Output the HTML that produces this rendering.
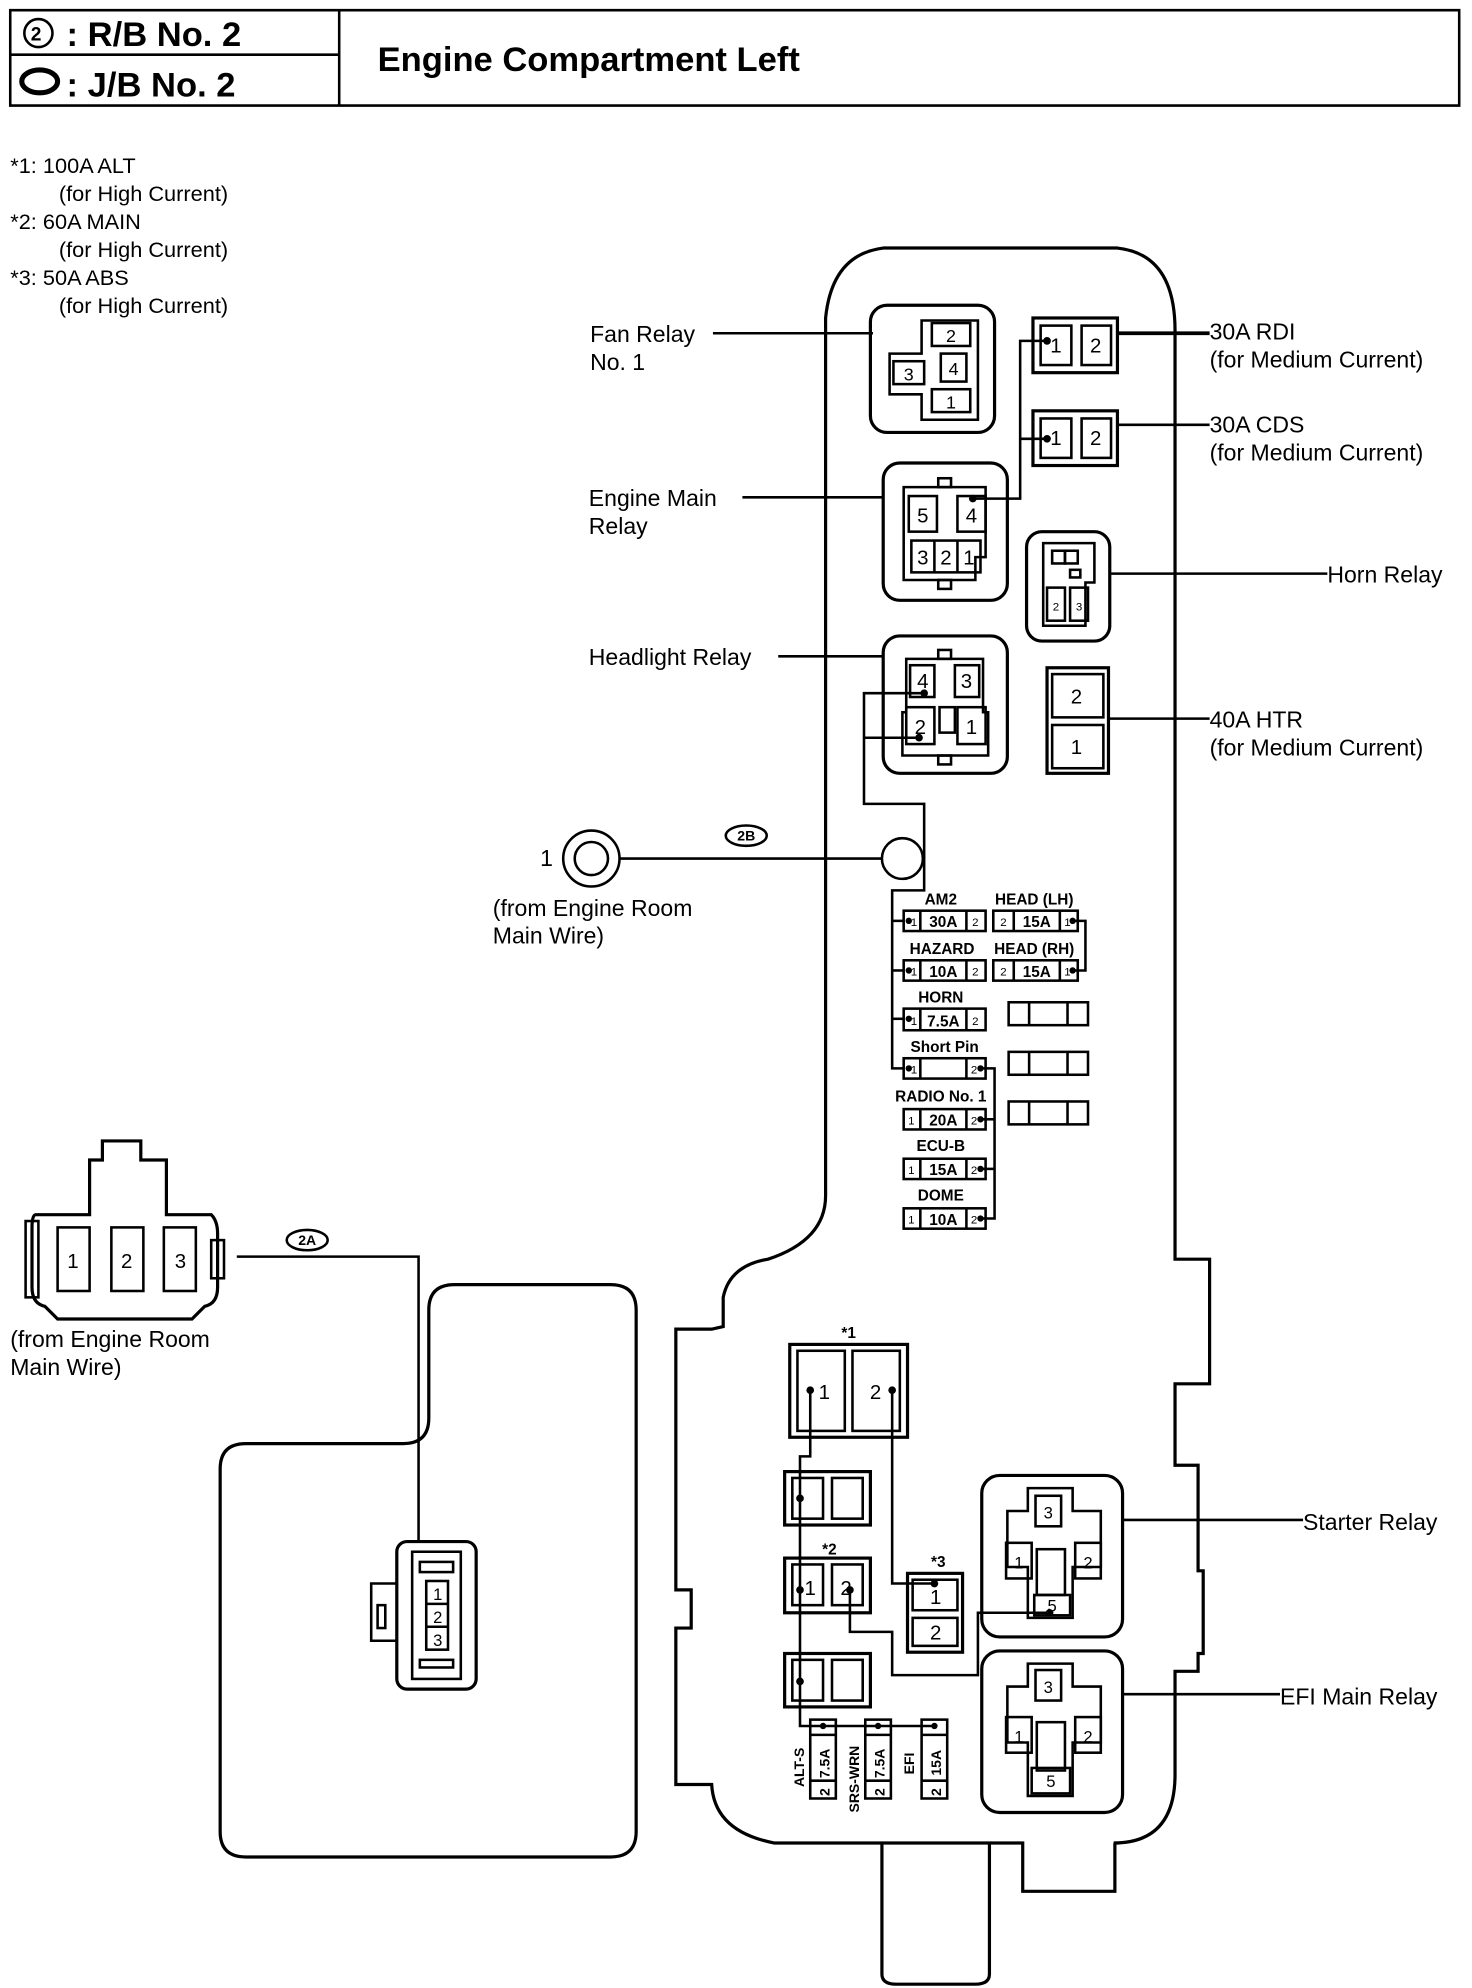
<!DOCTYPE html>
<html><head><meta charset="utf-8"><style>
html,body{margin:0;padding:0;background:#fff}
svg{display:block}
text{font-family:"Liberation Sans Narrow","Liberation Sans",sans-serif;fill:#000}
</style></head><body>
<svg width="1472" height="1988" viewBox="0 0 1150 1563" preserveAspectRatio="none" xmlns="http://www.w3.org/2000/svg">
<g fill="none" stroke="#000" stroke-width="2">
<path d="M8 8 H1140 V83 H8 Z" />
<line x1="265" y1="8" x2="265" y2="83"/>
<line x1="8" y1="43" x2="265" y2="43"/>
<circle cx="30" cy="26" r="11"/>
<ellipse cx="31" cy="64" rx="14" ry="9" stroke-width="4"/>
</g>
<text x="24" y="32" font-size="15" font-weight="bold">2</text>
<text x="52" y="36" font-size="27" font-weight="bold">:  R/B No. 2</text>
<text x="52" y="76" font-size="27" font-weight="bold">:  J/B No. 2</text>
<text x="295" y="56" font-size="27" font-weight="bold">Engine Compartment Left</text>
<g font-size="17">
<text x="8" y="136">*1:  100A ALT</text>
<text x="46" y="158">(for High Current)</text>
<text x="8" y="180">*2:  60A MAIN</text>
<text x="46" y="202">(for High Current)</text>
<text x="8" y="224">*3:  50A ABS</text>
<text x="46" y="246">(for High Current)</text>
</g>

<g fill="none" stroke="#000" stroke-width="2.5">
<path d="M690 195 H873 Q918 200 918 260 V990 H945 V1088 H918 V1152 H936 V1235 H940 V1300 H936 V1314 H918 V1395 Q918 1449 870 1449 H871 V1487 H799 V1449 H605 Q558 1440 556 1403 H528 V1280 H540 V1250 H528 V1045 H556 L565 1043 V1020 Q570 995 600 990 Q645 975 645 940 V250 Q650 200 690 195 Z"/>
<path d="M689 1449 V1552 Q689 1560 700 1560 H762 Q773 1560 773 1552 V1449"/>
<path d="M335 1030 Q335 1010 355 1010 H477 Q497 1010 497 1030 V1440 Q497 1460 477 1460 H192 Q172 1460 172 1440 V1155 Q172 1135 192 1135 H315 Q335 1135 335 1115 Z"/>
</g>

<g fill="none" stroke="#000" stroke-width="2">
<rect x="680" y="240" width="97" height="100" rx="13" stroke-width="2.5"/>
<path d="M720 252 H764 V330 H720 V310 H695 V278 H720 Z"/>
<rect x="728" y="254" width="30" height="18"/>
<rect x="698" y="284" width="24" height="18"/>
<rect x="735" y="278" width="20" height="22"/>
<rect x="728" y="306" width="30" height="18"/>
<rect x="690" y="364" width="97" height="108" rx="13" stroke-width="2.5"/>
<path d="M706 383 H770 V438 H762 V456 H706 Z"/>
<rect x="733" y="376" width="10" height="7"/><rect x="733" y="456" width="10" height="7"/>
<rect x="710" y="390" width="22" height="28"/>
<rect x="748" y="390" width="22" height="28"/>
<rect x="712" y="425" width="54" height="25"/>
<line x1="730" y1="425" x2="730" y2="450"/><line x1="748" y1="425" x2="748" y2="450"/>
<rect x="690" y="500" width="97" height="108" rx="13" stroke-width="2.5"/>
<path d="M708 518 H768 V560 H772 V594 H705 V560 H708 Z"/>
<rect x="733" y="511" width="10" height="7"/><rect x="733" y="594" width="10" height="7"/>
<rect x="711" y="523" width="19" height="25"/>
<rect x="746" y="523" width="19" height="25"/>
<rect x="708" y="556" width="22" height="29"/>
<rect x="748" y="556" width="22" height="29"/>
<rect x="734" y="556" width="12" height="20"/>
<rect x="807" y="250" width="66" height="43" stroke-width="2.5"/>
<rect x="813" y="256" width="24" height="31"/><rect x="845" y="256" width="23" height="31"/>
<rect x="807" y="323" width="66" height="43" stroke-width="2.5"/>
<rect x="813" y="329" width="24" height="31"/><rect x="845" y="329" width="23" height="31"/>
<rect x="802" y="418" width="65" height="86" rx="12" stroke-width="2.5"/>
<path d="M815 427 H855 V458 H848 V492 H815 Z"/>
<rect x="822" y="433" width="10" height="10"/><rect x="832" y="433" width="10" height="10"/>
<rect x="836" y="448" width="8" height="6"/>
<rect x="818" y="462" width="14" height="26"/><rect x="836" y="462" width="14" height="26"/>
<rect x="818" y="525" width="48" height="83" stroke-width="2.5"/>
<rect x="822" y="530" width="40" height="34"/><rect x="822" y="570" width="40" height="34"/>

<g stroke-width="2">
<rect x="706" y="716" width="64" height="16"/><line x1="719" y1="716" x2="719" y2="732"/><line x1="755" y1="716" x2="755" y2="732"/>
<rect x="776" y="716" width="66" height="16"/><line x1="792" y1="716" x2="792" y2="732"/><line x1="828" y1="716" x2="828" y2="732"/>
<rect x="706" y="755" width="64" height="16"/><line x1="719" y1="755" x2="719" y2="771"/><line x1="755" y1="755" x2="755" y2="771"/>
<rect x="776" y="755" width="66" height="16"/><line x1="792" y1="755" x2="792" y2="771"/><line x1="828" y1="755" x2="828" y2="771"/>
<rect x="706" y="793" width="64" height="17"/><line x1="719" y1="793" x2="719" y2="810"/><line x1="755" y1="793" x2="755" y2="810"/>
<rect x="706" y="832" width="64" height="16"/><line x1="719" y1="832" x2="719" y2="848"/><line x1="755" y1="832" x2="755" y2="848"/>
<rect x="706" y="872" width="64" height="16"/><line x1="719" y1="872" x2="719" y2="888"/><line x1="755" y1="872" x2="755" y2="888"/>
<rect x="706" y="911" width="64" height="16"/><line x1="719" y1="911" x2="719" y2="927"/><line x1="755" y1="911" x2="755" y2="927"/>
<rect x="706" y="950" width="64" height="16"/><line x1="719" y1="950" x2="719" y2="966"/><line x1="755" y1="950" x2="755" y2="966"/>
<rect x="788" y="788" width="62" height="18"/><line x1="804" y1="788" x2="804" y2="806"/><line x1="834" y1="788" x2="834" y2="806"/>
<rect x="788" y="827" width="62" height="18"/><line x1="804" y1="827" x2="804" y2="845"/><line x1="834" y1="827" x2="834" y2="845"/>
<rect x="788" y="866" width="62" height="18"/><line x1="804" y1="866" x2="804" y2="884"/><line x1="834" y1="866" x2="834" y2="884"/>
</g>

<polyline points="818,268 797,268 797,392 760,392"/>
<line x1="818" y1="345" x2="797" y2="345"/>
<polyline points="722,545 675,545 675,632 722,632 722,700 697,700 697,840 706,840"/>
<line x1="718" y1="580" x2="675" y2="580"/>
<line x1="697" y1="724" x2="706" y2="724"/><line x1="697" y1="763" x2="706" y2="763"/><line x1="697" y1="801" x2="706" y2="801"/>
<polyline points="766,840 777,840 777,958 766,958"/>
<line x1="777" y1="880" x2="766" y2="880"/><line x1="777" y1="919" x2="766" y2="919"/>
<polyline points="838,724 848,724 848,763 838,763"/>
<circle cx="705" cy="675" r="16" fill="#fff"/>
<circle cx="462" cy="675" r="22"/><circle cx="462" cy="675" r="13"/>
<line x1="484" y1="675" x2="689" y2="675"/>
<ellipse cx="583" cy="657" rx="16" ry="8"/>
<ellipse cx="240" cy="975" rx="16" ry="8"/>

<line x1="557" y1="262" x2="682" y2="262"/>
<line x1="580" y1="391" x2="690" y2="391"/>
<line x1="608" y1="516" x2="690" y2="516"/>
<line x1="873" y1="262" x2="945" y2="262" stroke-width="3"/>
<line x1="873" y1="334" x2="945" y2="334"/>
<line x1="867" y1="451" x2="1037" y2="451"/>
<line x1="866" y1="565" x2="945" y2="565"/>
<line x1="877" y1="1195" x2="1018" y2="1195"/>
<line x1="877" y1="1332" x2="1000" y2="1332"/>

<rect x="617" y="1057" width="92" height="73" stroke-width="2.5"/>
<rect x="623" y="1062" width="37" height="63"/><rect x="666" y="1062" width="37" height="63"/>
<rect x="613" y="1157" width="67" height="42" stroke-width="2.5"/>
<rect x="619" y="1162" width="24" height="32"/><rect x="650" y="1162" width="24" height="32"/>
<rect x="613" y="1225" width="67" height="43" stroke-width="2.5"/>
<rect x="619" y="1230" width="24" height="32"/><rect x="650" y="1230" width="24" height="32"/>
<rect x="613" y="1300" width="67" height="42" stroke-width="2.5"/>
<rect x="619" y="1305" width="24" height="32"/><rect x="650" y="1305" width="24" height="32"/>
<rect x="709" y="1237" width="43" height="62" stroke-width="2.5"/>
<rect x="713" y="1242" width="35" height="24"/><rect x="713" y="1272" width="35" height="22"/>
<rect x="633" y="1352" width="20" height="62"/><line x1="633" y1="1364" x2="653" y2="1364"/><line x1="633" y1="1400" x2="653" y2="1400"/>
<rect x="676" y="1352" width="20" height="62"/><line x1="676" y1="1364" x2="696" y2="1364"/><line x1="676" y1="1400" x2="696" y2="1400"/>
<rect x="720" y="1352" width="20" height="62"/><line x1="720" y1="1364" x2="740" y2="1364"/><line x1="720" y1="1400" x2="740" y2="1400"/>
<polyline points="633,1093 633,1145 625,1145 625,1357 730,1357"/>
<polyline points="697,1093 697,1245 730,1245"/>
<polyline points="664,1250 664,1283 697,1283 697,1317 764,1317 764,1268 820,1268"/>
<rect x="767" y="1160" width="110" height="127" rx="14" stroke-width="2.5"/>
<path d="M803 1170 H838 V1188 H860 V1232 H838 V1272 H803 V1232 H787 V1188 H803 Z"/>
<rect x="809" y="1176" width="20" height="24"/><rect x="786" y="1213" width="20" height="28"/><rect x="840" y="1213" width="20" height="28"/><rect x="810" y="1218" width="22" height="36"/><rect x="808" y="1254" width="28" height="16"/>
<rect x="767" y="1298" width="110" height="127" rx="14" stroke-width="2.5"/>
<path d="M803 1308 H838 V1326 H860 V1370 H838 V1412 H803 V1370 H787 V1326 H803 Z"/>
<rect x="809" y="1313" width="20" height="24"/><rect x="786" y="1350" width="20" height="28"/><rect x="840" y="1350" width="20" height="28"/><rect x="810" y="1354" width="22" height="38"/><rect x="806" y="1390" width="30" height="20"/>

<path d="M28 955 H70 V912 H80 V897 H110 V912 H130 V955 H165 Q170 960 170 970 V1012 Q170 1025 160 1027 L150 1037 H45 L35 1027 Q25 1025 25 1012 V965 Q25 955 28 955 Z" stroke-width="2.5"/>
<rect x="20" y="960" width="10" height="60"/><rect x="165" y="975" width="10" height="30"/>
<rect x="45" y="965" width="25" height="50"/><rect x="87" y="965" width="25" height="50"/><rect x="128" y="965" width="25" height="50"/>
<polyline points="185,988 327,988 327,1212"/>
<rect x="310" y="1212" width="62" height="116" rx="8" stroke-width="2.5"/>
<rect x="322" y="1220" width="38" height="100"/>
<path d="M310 1245 H290 V1290 H310"/><rect x="295" y="1262" width="6" height="18"/>
<rect x="333" y="1243" width="17" height="54"/><line x1="333" y1="1261" x2="350" y2="1261"/><line x1="333" y1="1279" x2="350" y2="1279"/>
<rect x="328" y="1228" width="26" height="8"/><rect x="328" y="1305" width="26" height="6"/>
</g>

<g fill="#000">
<circle cx="818" cy="268" r="3"/><circle cx="818" cy="345" r="3"/><circle cx="760" cy="392" r="3"/>
<circle cx="722" cy="545" r="3"/><circle cx="718" cy="580" r="3"/>
<circle cx="710" cy="724" r="2.5"/><circle cx="710" cy="763" r="2.5"/><circle cx="710" cy="801" r="2.5"/><circle cx="710" cy="840" r="2.5"/>
<circle cx="838" cy="724" r="2.5"/><circle cx="838" cy="763" r="2.5"/>
<circle cx="766" cy="840" r="2.5"/><circle cx="766" cy="880" r="2.5"/><circle cx="766" cy="919" r="2.5"/><circle cx="766" cy="958" r="2.5"/>
<circle cx="633" cy="1093" r="3"/><circle cx="697" cy="1093" r="3"/><circle cx="625" cy="1178" r="3"/><circle cx="625" cy="1250" r="3"/><circle cx="664" cy="1250" r="3"/><circle cx="625" cy="1322" r="3"/>
<circle cx="730" cy="1245" r="3"/><circle cx="820" cy="1268" r="3"/>
<circle cx="643" cy="1357" r="2.5"/><circle cx="686" cy="1357" r="2.5"/><circle cx="730" cy="1357" r="2.5"/>
</g>

<g font-size="18">
<text x="461" y="269">Fan Relay</text><text x="461" y="291">No. 1</text>
<text x="460" y="398">Engine Main</text><text x="460" y="420">Relay</text>
<text x="460" y="523">Headlight Relay</text>
<text x="945" y="267">30A RDI</text><text x="945" y="289">(for Medium Current)</text>
<text x="945" y="340">30A CDS</text><text x="945" y="362">(for Medium Current)</text>
<text x="1037" y="458">Horn Relay</text>
<text x="945" y="572">40A HTR</text><text x="945" y="594">(for Medium Current)</text>
<text x="1018" y="1203">Starter Relay</text>
<text x="1000" y="1340">EFI Main Relay</text>
<text x="422" y="681">1</text>
<text x="385" y="720">(from Engine Room</text><text x="385" y="742">Main Wire)</text>
<text x="8" y="1059">(from Engine Room</text><text x="8" y="1081">Main Wire)</text>
</g>
<g font-size="11" font-weight="bold" text-anchor="middle">
<text x="583" y="661">2B</text><text x="240" y="979">2A</text>
</g>
<g font-size="16" text-anchor="middle">
<text x="743" y="269" font-size="14">2</text><text x="710" y="299" font-size="14">3</text><text x="745" y="295" font-size="14">4</text><text x="743" y="321" font-size="14">1</text>
<text x="721" y="411">5</text><text x="759" y="411">4</text>
<text x="721" y="444">3</text><text x="739" y="444">2</text><text x="757" y="444">1</text>
<text x="721" y="541">4</text><text x="755" y="541">3</text><text x="719" y="577">2</text><text x="759" y="577">1</text>
<text x="825" y="277">1</text><text x="856" y="277">2</text>
<text x="825" y="350">1</text><text x="856" y="350">2</text>
<text x="841" y="553">2</text><text x="841" y="593">1</text>
<text x="644" y="1100">1</text><text x="684" y="1100">2</text>
<text x="633" y="1254">1</text><text x="661" y="1254">2</text>
<text x="731" y="1261">1</text><text x="731" y="1289">2</text>
<text x="57" y="997">1</text><text x="99" y="997">2</text><text x="141" y="997">3</text>
<text x="342" y="1258" font-size="13">1</text><text x="342" y="1276" font-size="13">2</text><text x="342" y="1294" font-size="13">3</text>
</g>
<g font-size="13" text-anchor="middle">
<text x="819" y="1194">3</text><text x="796" y="1233">1</text><text x="850" y="1233">2</text><text x="822" y="1267">5</text>
<text x="819" y="1331">3</text><text x="796" y="1370">1</text><text x="850" y="1370">2</text><text x="821" y="1405">5</text>
<text x="825" y="480" font-size="9">2</text><text x="843" y="480" font-size="9">3</text>
</g>
<g font-size="12" font-weight="bold" text-anchor="middle">
<text x="735" y="711">AM2</text><text x="808" y="711">HEAD (LH)</text>
<text x="736" y="750">HAZARD</text><text x="808" y="750">HEAD (RH)</text>
<text x="735" y="788">HORN</text><text x="738" y="827">Short Pin</text>
<text x="735" y="866">RADIO No. 1</text><text x="735" y="905">ECU-B</text><text x="735" y="944">DOME</text>
<text x="737" y="729">30A</text><text x="810" y="729">15A</text>
<text x="737" y="768">10A</text><text x="810" y="768">15A</text>
<text x="737" y="807">7.5A</text>
<text x="737" y="885">20A</text><text x="737" y="924">15A</text><text x="737" y="963">10A</text>
<text x="663" y="1052">*1</text><text x="648" y="1222">*2</text><text x="733" y="1232">*3</text>
</g>
<g font-size="9" text-anchor="middle">
<text x="714" y="728">1</text><text x="762" y="728">2</text><text x="784" y="728">2</text><text x="834" y="728">1</text>
<text x="714" y="767">1</text><text x="762" y="767">2</text><text x="784" y="767">2</text><text x="834" y="767">1</text>
<text x="714" y="806">1</text><text x="762" y="806">2</text><text x="714" y="844">1</text><text x="761" y="844">2</text>
<text x="712" y="884">1</text><text x="761" y="884">2</text><text x="712" y="923">1</text><text x="761" y="923">2</text><text x="712" y="962">1</text><text x="761" y="962">2</text>
</g>
<g font-size="11" font-weight="bold">
<text transform="translate(628,1405) rotate(-90)">ALT-S</text>
<text transform="translate(671,1425) rotate(-90)">SRS-WRN</text>
<text transform="translate(714,1395) rotate(-90)">EFI</text>
<text transform="translate(648,1398) rotate(-90)">7.5A</text>
<text transform="translate(691,1398) rotate(-90)">7.5A</text>
<text transform="translate(735,1396) rotate(-90)">15A</text>
<text transform="translate(648,1412) rotate(-90)">2</text>
<text transform="translate(691,1412) rotate(-90)">2</text>
<text transform="translate(735,1412) rotate(-90)">2</text>
</g>
</svg>
</body></html>
